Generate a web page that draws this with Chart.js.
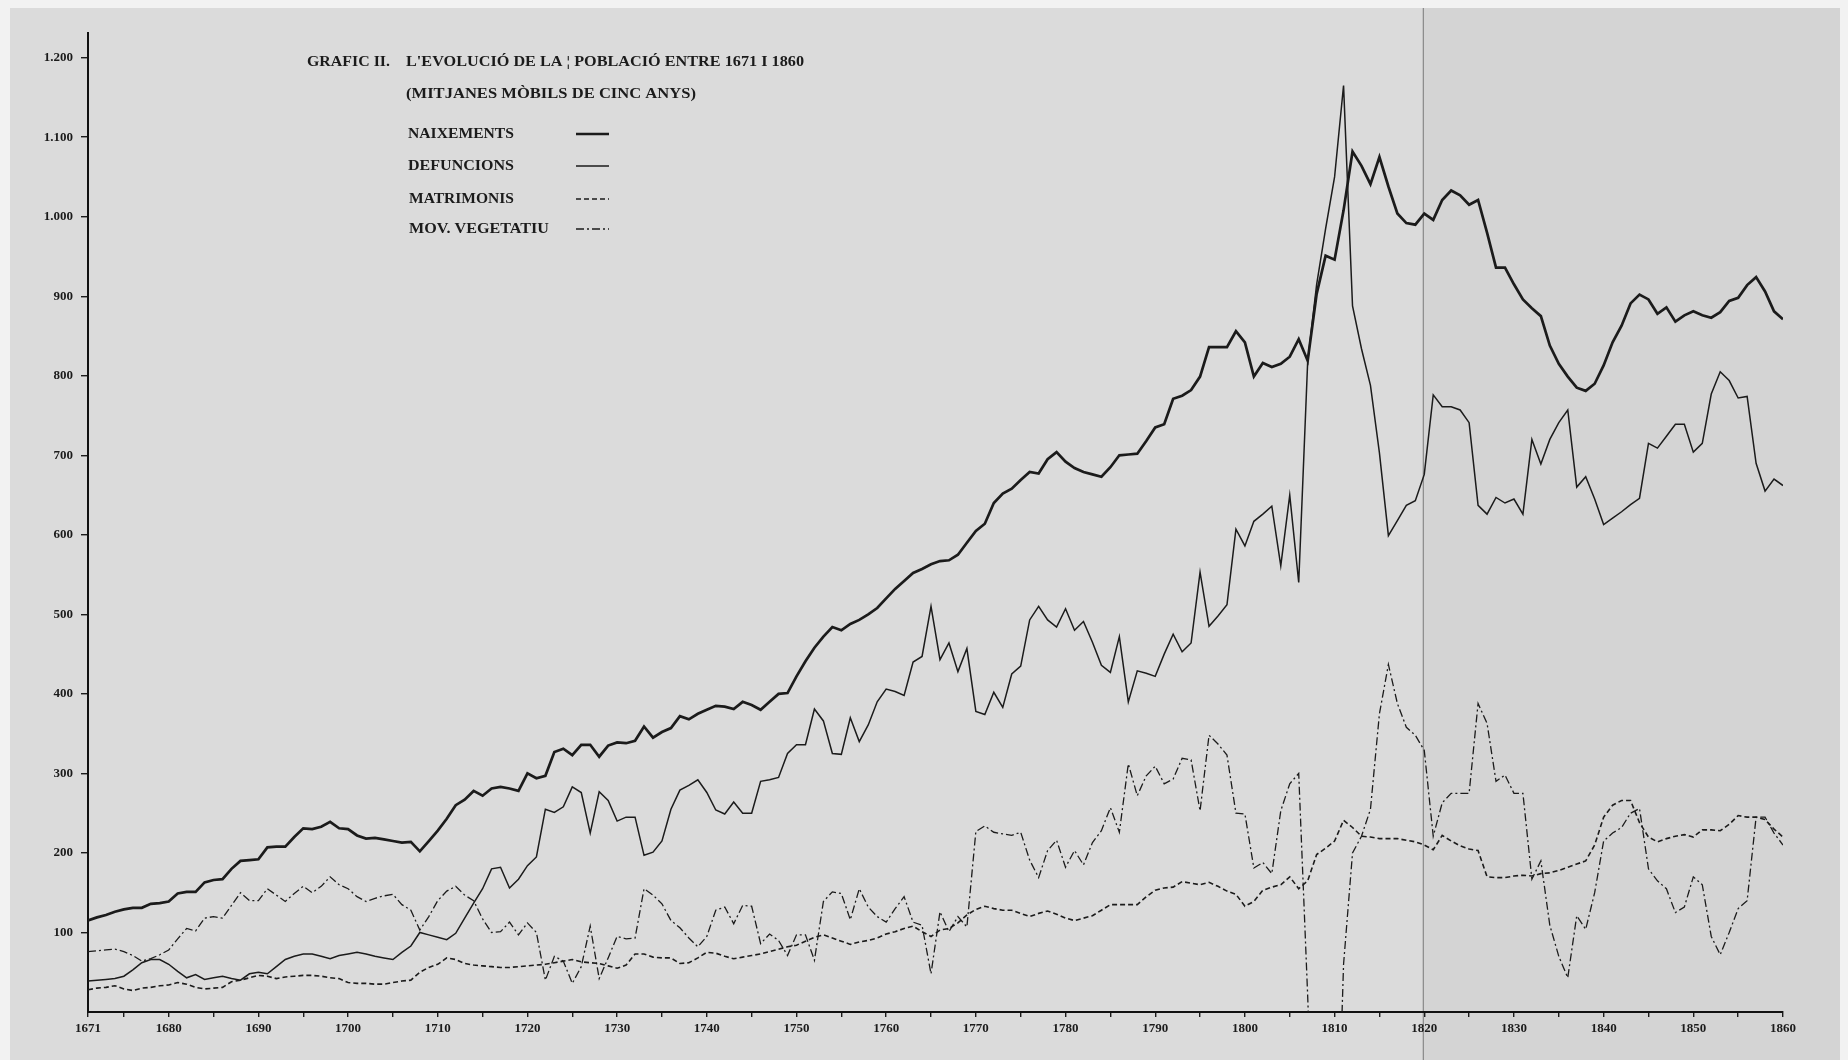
<!DOCTYPE html>
<html>
<head>
<meta charset="utf-8">
<script src="https://cdn.jsdelivr.net/npm/chart.js@4.4.1/dist/chart.umd.min.js"></script>
<style>
html,body{margin:0;padding:0;background:#dadada;}
canvas{display:block;}
</style>
</head>
<body>
<canvas id="c" width="1848" height="1060"></canvas>
<script>
// ---------- DATA ----------
const startYear = 1671;
const endYear = 1860;

const naixements = [
 115,119,122,126,129,131,131,136,137,139,
 149,151,151,163,166,167,180,190,191,192,
 207,208,208,220,231,230,233,239,231,230,
 222,218,219,217,215,213,214,202,215,228,
 243,260,267,278,272,281,283,281,278,300,
 294,297,327,331,323,336,336,321,335,339,
 338,341,359,345,352,357,372,368,375,380,
 385,384,381,390,386,380,390,400,401,422,
 441,458,472,484,480,488,493,500,508,520,
 532,542,552,557,563,567,568,575,590,605,
 614,640,652,658,669,679,677,695,704,692,
 684,679,676,673,685,700,701,702,718,735,
 739,771,775,782,799,836,836,836,856,842,
 799,816,811,815,824,846,819,903,951,946,
 1008,1082,1064,1041,1075,1038,1004,992,990,1004,
 996,1021,1033,1027,1015,1021,980,936,936,915,
 896,885,875,838,815,799,785,781,790,813,
 842,863,891,902,896,878,886,868,876,881,
 876,873,880,894,898,914,924,906,881,871
];

const defuncions = [
 39,40,41,42,45,53,62,66,66,60,
 51,43,47,41,43,45,42,40,48,50,
 48,57,66,70,73,73,70,67,71,73,
 75,73,70,68,66,75,83,100,97,94,
 91,99,118,137,155,180,182,156,167,184,
 195,255,251,258,283,276,225,277,266,240,
 245,245,197,201,215,255,279,285,292,276,
 254,249,264,250,250,290,292,295,325,336,
 336,381,366,325,324,370,340,361,390,406,
 403,398,440,447,510,443,464,428,457,378,
 374,402,383,425,435,493,510,493,484,507,
 480,491,465,436,427,472,390,429,426,422,
 450,475,453,464,553,485,498,512,607,586,
 617,626,636,561,650,540,818,915,985,1050,
 1165,888,834,788,703,599,618,637,643,676,
 776,761,761,757,741,637,626,647,640,645,
 626,720,689,720,741,757,660,673,645,613,
 621,629,638,646,715,709,724,739,739,704,
 715,777,805,794,772,774,690,655,670,662
];

const matrimonis = [
 28,30,31,33,29,27,30,31,33,34,
 37,35,31,29,30,31,38,40,43,46,
 45,42,44,45,46,46,45,43,42,37,
 36,36,35,35,37,39,40,50,56,60,
 68,66,61,59,58,57,56,56,57,58,
 59,60,62,64,66,63,62,61,58,55,
 59,73,73,69,68,68,61,62,68,75,
 74,70,67,69,71,73,76,79,82,84,
 89,94,97,93,89,85,88,90,93,98,
 101,105,108,101,95,103,105,112,122,129,
 133,130,128,128,124,120,124,127,123,118,
 115,118,121,128,135,135,135,135,145,153,
 156,157,164,162,160,163,158,152,148,133,
 139,153,157,160,170,155,165,198,206,215,
 241,232,221,220,218,218,218,216,214,210,
 204,222,215,209,205,203,170,169,169,171,
 172,171,174,175,178,182,186,190,210,245,
 260,266,266,238,220,214,218,221,223,220,
 229,229,228,236,247,245,245,242,230,220
];

const movVegetatiu = [
 76,77,78,79,76,71,64,67,72,78,
 92,105,102,118,120,118,134,150,140,140,
 155,147,139,149,158,150,158,170,160,155,
 145,139,143,146,148,135,128,103,120,140,
 152,158,147,140,117,100,101,113,97,112,
 100,40,70,64,36,57,108,42,68,95,
 92,93,155,147,136,115,106,93,82,95,
 128,132,111,134,133,86,98,90,71,97,
 97,65,139,151,149,116,155,132,120,113,
 130,145,113,109,48,126,101,120,107,227,
 234,226,224,222,226,191,169,203,216,182,
 203,185,213,228,257,226,312,272,297,309,
 287,293,319,317,253,348,337,323,250,249,
 181,188,174,253,287,300,20,-300,-300,-300,
 60,200,221,255,375,437,388,358,348,329,
 221,263,275,275,275,388,363,290,298,275,
 275,167,190,109,70,43,121,104,150,215,
 225,232,250,256,180,165,155,125,132,170,
 160,95,72,100,130,140,245,245,225,210
];

const years = Array.from({length: endYear - startYear + 1}, (_, i) => startYear + i);

const yTickValues = [100,200,300,400,500,600,700,800,900,1000,1100,1200];
const yTickLabels = ['100','200','300','400','500','600','700','800','900','1.000','1.100','1.200'];
const xTickMarks = [1671,1675,1680,1685,1690,1695,1700,1705,1710,1715,1720,1725,1730,1735,1740,1745,1750,1755,1760,1765,1770,1775,1780,1785,1790,1795,1800,1805,1810,1815,1820,1825,1830,1835,1840,1845,1850,1855,1860];
const xTickLabels = [1671,1680,1690,1700,1710,1720,1730,1740,1750,1760,1770,1780,1790,1800,1810,1820,1830,1840,1850,1860];

const titleText1 = 'GRAFIC II.';
const titleText2 = "L'EVOLUCIÓ DE LA ¦ POBLACIÓ ENTRE 1671 I 1860";
const subtitleText = '(MITJANES MÒBILS DE CINC ANYS)';
const seriesNames = ['NAIXEMENTS','DEFUNCIONS','MATRIMONIS','MOV. VEGETATIU'];
const foldYear = 1820;

// ---------- STYLE ----------
const INK = '#1b1b1b';
const seriesStyles = [
  {width: 2.7, dash: []},
  {width: 1.5, dash: []},
  {width: 1.6, dash: [5, 3]},
  {width: 1.3, dash: [8, 3, 2, 3]}
];
const seriesValues = [naixements, defuncions, matrimonis, movVegetatiu];

const datasets = seriesValues.map((vals, i) => ({
  label: seriesNames[i],
  data: vals.map((v, k) => ({x: years[k], y: v})),
  borderColor: INK,
  borderWidth: seriesStyles[i].width,
  borderDash: seriesStyles[i].dash,
  pointRadius: 0,
  tension: 0,
  fill: false,
  borderJoinStyle: 'miter'
}));

// text layout (pixel positions of the annotation block)
const textBlock = [
  {text: titleText1, x: 307, y: 62, w: 83},
  {text: titleText2, x: 406, y: 62, w: 398},
  {text: subtitleText, x: 406, y: 94, w: 290},
  {text: seriesNames[0], x: 408, y: 134, w: 106, s: 0},
  {text: seriesNames[1], x: 408, y: 166, w: 106, s: 1},
  {text: seriesNames[2], x: 409, y: 199, w: 105, s: 2},
  {text: seriesNames[3], x: 409, y: 229, w: 140, s: 3}
];

const paperPlugin = {
  id: 'paper',
  beforeDraw(chart) {
    const ctx = chart.ctx;
    const W = chart.width, H = chart.height;
    const xs = chart.scales.x;
    const fx = xs.getPixelForValue(foldYear) - 1;
    ctx.save();
    ctx.fillStyle = '#dbdbdb';
    ctx.fillRect(0, 0, W, H);
    ctx.fillStyle = '#d4d4d4';
    ctx.fillRect(fx, 0, W - fx, H);
    ctx.fillStyle = '#f2f2f2';
    ctx.fillRect(0, 0, W, 8);
    ctx.fillRect(0, 0, 10, H);
    ctx.fillRect(W - 8, 0, 8, H);
    ctx.strokeStyle = 'rgba(80,80,80,0.7)';
    ctx.lineWidth = 1;
    ctx.beginPath();
    ctx.moveTo(fx, 8);
    ctx.lineTo(fx, H);
    ctx.stroke();
    ctx.restore();
  },
  afterDraw(chart) {
    const ctx = chart.ctx;
    ctx.save();
    ctx.fillStyle = INK;
    ctx.font = 'bold 13px "Liberation Serif"';
    ctx.textBaseline = 'middle';
    textBlock.forEach(t => {
      const nat = ctx.measureText(t.text).width;
      ctx.save();
      ctx.translate(t.x, t.y);
      ctx.scale(t.w / nat, 1.08);
      ctx.fillText(t.text, 0, 0);
      ctx.restore();
      if (t.s !== undefined) {
        const st = seriesStyles[t.s];
        ctx.save();
        ctx.strokeStyle = INK;
        ctx.lineWidth = st.width;
        ctx.setLineDash(st.dash);
        ctx.beginPath();
        ctx.moveTo(576, t.y);
        ctx.lineTo(609, t.y);
        ctx.stroke();
        ctx.restore();
      }
    });
    ctx.restore();
  }
};

new Chart(document.getElementById('c'), {
  type: 'line',
  data: {datasets},
  options: {
    responsive: false,
    animation: false,
    devicePixelRatio: 1,
    layout: {padding: {left: 0, right: 65, top: 33, bottom: 0}},
    plugins: {legend: {display: false}, tooltip: {enabled: false}},
    scales: {
      x: {
        type: 'linear',
        min: startYear,
        max: endYear,
        afterBuildTicks(scale) { scale.ticks = xTickMarks.map(v => ({value: v})); },
        afterFit(scale) { scale.height = 48; },
        ticks: {
          autoSkip: false,
          maxRotation: 0,
          padding: 4,
          color: INK,
          font: {family: 'Liberation Serif', size: 13, weight: 'bold'},
          callback: (v) => xTickLabels.includes(v) ? String(v) : ''
        },
        grid: {display: true, drawOnChartArea: false, drawTicks: true, tickLength: 5, color: INK, lineWidth: 1.4},
        border: {display: true, color: '#111', width: 2}
      },
      y: {
        type: 'linear',
        min: 0,
        max: 1231,
        afterBuildTicks(scale) { scale.ticks = yTickValues.map(v => ({value: v})); },
        afterFit(scale) { scale.width = 88; },
        ticks: {
          autoSkip: false,
          padding: 8,
          color: INK,
          font: {family: 'Liberation Serif', size: 13, weight: 'bold'},
          callback: (v) => { const i = yTickValues.indexOf(v); return i >= 0 ? yTickLabels[i] : ''; }
        },
        grid: {display: true, drawOnChartArea: false, drawTicks: true, tickLength: 7, color: INK, lineWidth: 1.4},
        border: {display: true, color: '#111', width: 2}
      }
    }
  },
  plugins: [paperPlugin]
});
</script>
</body>
</html>
